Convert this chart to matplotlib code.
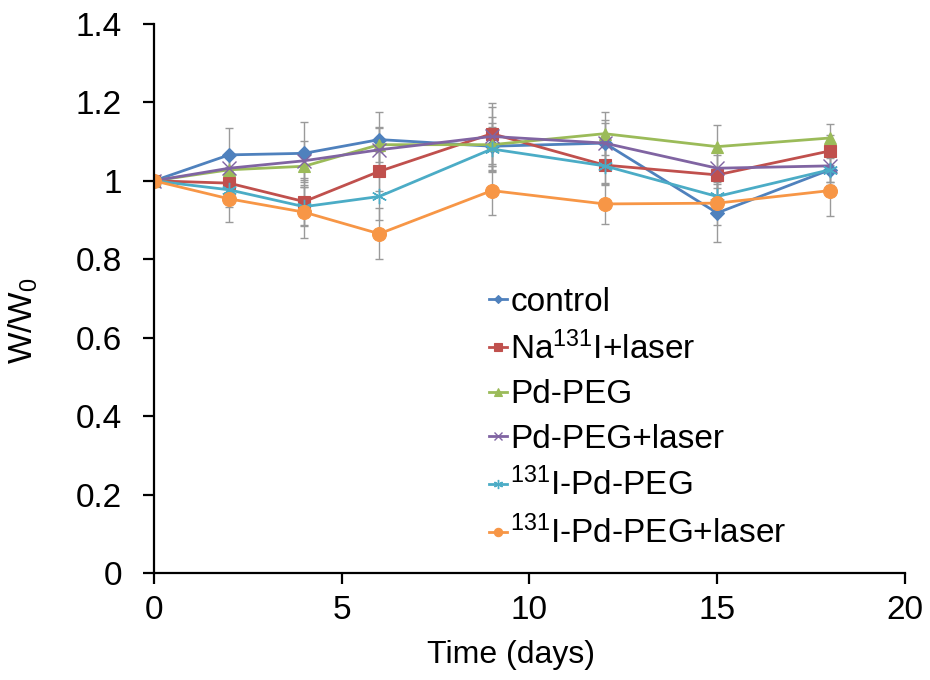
import matplotlib
matplotlib.use('Agg')
import matplotlib.pyplot as plt

plt.rcParams['font.family'] = ['Liberation Sans', 'DejaVu Sans']
plt.rcParams['mathtext.default'] = 'regular'

# time points (days)
days = [0, 2, 4, 6, 9, 12, 15, 18]

# relative body weight W/W0 for each group
control = [1.0, 1.066, 1.070, 1.105, 1.088, 1.096, 0.918, 1.028]
nai_laser = [1.0, 0.994, 0.947, 1.024, 1.120, 1.040, 1.015, 1.076]
pd_peg = [1.0, 1.028, 1.037, 1.092, 1.092, 1.120, 1.087, 1.109]
pd_peg_laser = [1.0, 1.032, 1.051, 1.079, 1.113, 1.096, 1.032, 1.038]
i_pd_peg = [1.0, 0.977, 0.934, 0.960, 1.081, 1.038, 0.960, 1.028]
i_pd_peg_laser = [1.0, 0.954, 0.920, 0.865, 0.975, 0.941, 0.943, 0.975]

# standard deviations
control_err = [0.0, 0.068, 0.080, 0.070, 0.060, 0.050, 0.075, 0.030]
nai_laser_err = [0.0, 0.040, 0.060, 0.050, 0.078, 0.045, 0.050, 0.040]
pd_peg_err = [0.0, 0.030, 0.040, 0.045, 0.070, 0.055, 0.055, 0.035]
pd_peg_laser_err = [0.0, 0.035, 0.050, 0.055, 0.075, 0.060, 0.050, 0.040]
i_pd_peg_err = [0.0, 0.045, 0.050, 0.060, 0.055, 0.050, 0.050, 0.040]
i_pd_peg_laser_err = [0.0, 0.060, 0.065, 0.065, 0.062, 0.050, 0.055, 0.066]

labels = ['control', 'Na$^{131}$I+laser', 'Pd-PEG', 'Pd-PEG+laser',
          '$^{131}$I-Pd-PEG', '$^{131}$I-Pd-PEG+laser']
series = [control, nai_laser, pd_peg, pd_peg_laser, i_pd_peg, i_pd_peg_laser]
errors = [control_err, nai_laser_err, pd_peg_err, pd_peg_laser_err,
          i_pd_peg_err, i_pd_peg_laser_err]
colors = ['#4F81BD', '#C0504D', '#9BBB59', '#8064A2', '#4BACC6', '#F79646']
markers = ['D', 's', '^', 'x', (6, 2, 0), 'o']
msizes = [7.5, 9, 9, 10, 11, 10]

fig = plt.figure(figsize=(9.3, 6.8), dpi=100)
ax = fig.add_axes([0.1656, 0.157, 0.8074, 0.808])

for y, e, lab, c, m, ms in zip(series, errors, labels, colors, markers, msizes):
    ax.errorbar(days, y, yerr=e, fmt='none', ecolor='#9a9a9a', elinewidth=1,
                capsize=3, capthick=1, zorder=1)
    thin = m in ('x', (6, 2, 0))
    ax.plot(days, y, color=c, marker=m, markersize=ms, lw=2, label=lab,
            markeredgecolor=c, markeredgewidth=1.0 if thin else 0.8, zorder=2)

ax.set_xlim(0, 20)
ax.set_ylim(0, 1.4)
ax.set_xticks([0, 5, 10, 15, 20])
ax.set_yticks([0, 0.2, 0.4, 0.6, 0.8, 1.0, 1.2, 1.4])
ax.set_yticklabels(['0', '0.2', '0.4', '0.6', '0.8', '1', '1.2', '1.4'])
ax.tick_params(labelsize=24, direction='out', length=8, width=1.6)
ax.tick_params(axis='x', pad=8)
ax.tick_params(axis='y', pad=15)
ax.spines['top'].set_visible(False)
ax.spines['right'].set_visible(False)
ax.spines['left'].set_linewidth(1.6)
ax.spines['bottom'].set_linewidth(1.6)

ax.set_xlabel('Time (days)', fontsize=23)
ax.set_ylabel('W/W$_0$', fontsize=24)
ax.xaxis.set_label_coords(0.475, -0.122)
ax.yaxis.set_label_coords(-0.152, 0.46)

ax.legend(loc='upper left', bbox_to_anchor=(0.428, 0.545), frameon=False,
          fontsize=24, handlelength=0.55, handletextpad=0.1,
          labelspacing=0.4, markerscale=0.6, borderaxespad=0)

fig.savefig('out.png', dpi=100)
